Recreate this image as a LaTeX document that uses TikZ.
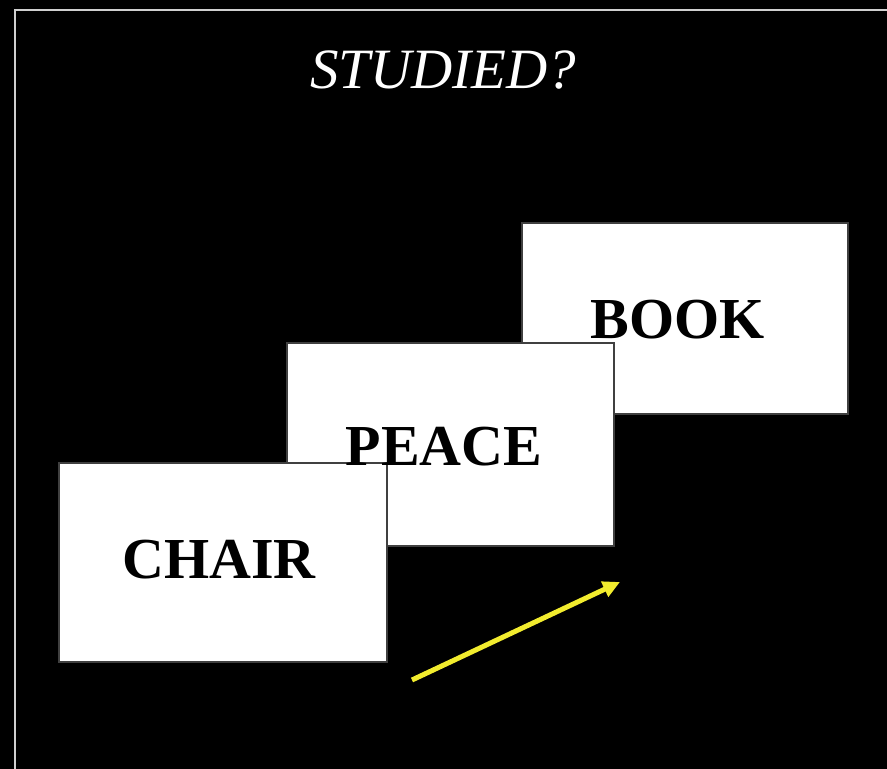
\documentclass[tikz,border=0pt]{standalone}
\usepackage{fontspec}
\setmainfont{Liberation Serif}
\usetikzlibrary{arrows.meta}
\definecolor{arrowyellow}{HTML}{F2EC2E}
\definecolor{framegray}{HTML}{D0D0D0}
\definecolor{boxedge}{HTML}{404040}
\tikzset{
  card/.style={draw=boxedge, line width=1.2pt, fill=white, inner sep=0pt, anchor=center},
  word/.style={font=\fontsize{58}{60}\selectfont\bfseries, text=black, anchor=base, inner sep=0pt},
  titletext/.style={font=\fontsize{57}{60}\selectfont\itshape, text=white, anchor=base, inner sep=0pt},
  moveline/.style={draw=arrowyellow, line width=5pt, -{Triangle[length=17pt,width=16pt]}}
}
\begin{document}
\begin{tikzpicture}[x=1pt,y=-1pt]
\fill[black] (0,0) rectangle (887,769);
\useasboundingbox (0,0) rectangle (887,769);
\draw[framegray, line width=2.6pt] (15,772) -- (15,10) -- (890,10);
\node[titletext] (title) at (443,88) {STUDIED?};
\node[card, minimum width=326pt, minimum height=191pt] (book) at (685,318.5) {};
\node[word] (booktext) at (678,338) {BOOK};
\node[card, minimum width=327pt, minimum height=203pt] (peace) at (450.5,444.5) {};
\node[card, minimum width=328pt, minimum height=199pt] (chair) at (223,562.5) {};
\node[word] (peacetext) at (444,465) {PEACE};
\node[word] (chairtext) at (219,578) {CHAIR};
\coordinate (arrowstart) at (412,680);
\coordinate (arrowend) at (620,582);
\draw[moveline] (arrowstart) -- (arrowend);
\end{tikzpicture}
\end{document}
